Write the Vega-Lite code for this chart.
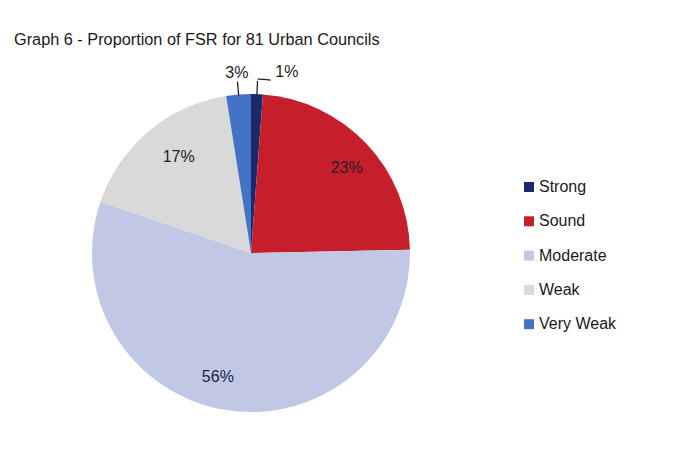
{
  "$schema": "https://vega.github.io/schema/vega-lite/v6.json",
  "width": 318,
  "height": 318,
  "autosize": {"type": "none"},
  "padding": {"left": 92, "top": 94, "right": 266, "bottom": 46},
  "background": "white",
  "config": {"view": {"stroke": null}},
  "title": {
    "text": "Graph 6 - Proportion of FSR for 81 Urban Councils",
    "anchor": "start",
    "frame": "group",
    "dx": -78,
    "offset": 16,
    "font": "Liberation Sans",
    "fontSize": 16.3,
    "fontWeight": "normal",
    "color": "#1a1a1a"
  },
  "data": {
    "values": [
      {"category": "Strong", "rank": 1, "share": 1.2, "label": "1%"},
      {"category": "Sound", "rank": 2, "share": 23.5, "label": "23%"},
      {"category": "Moderate", "rank": 3, "share": 55.6, "label": "56%"},
      {"category": "Weak", "rank": 4, "share": 17.3, "label": "17%"},
      {"category": "Very Weak", "rank": 5, "share": 2.5, "label": "3%"}
    ]
  },
  "encoding": {
    "theta": {"field": "share", "type": "quantitative", "stack": true},
    "order": {"field": "rank", "type": "quantitative"}
  },
  "layer": [
    {
      "mark": {"type": "arc"},
      "encoding": {
        "color": {
          "field": "category",
          "type": "nominal",
          "scale": {
            "domain": ["Strong", "Sound", "Moderate", "Weak", "Very Weak"],
            "range": ["#1c296c", "#c61f2b", "#c1c8e6", "#d9d9d9", "#4472c4"]
          },
          "legend": {
            "title": null,
            "orient": "none",
            "legendX": 429,
            "legendY": 85,
            "padding": 0,
            "symbolType": "square",
            "symbolSize": 100,
            "symbolStrokeWidth": 0,
            "symbolOpacity": 1,
            "labelFont": "Liberation Sans",
            "labelFontSize": 16,
            "labelColor": "#1a1a1a",
            "labelOffset": 2,
            "rowPadding": 18.3
          }
        }
      }
    },
    {
      "mark": {"type": "arc", "innerRadius": 158, "outerRadius": 172, "padAngle": 0.2, "fill": null, "strokeWidth": 1.3},
      "encoding": {
        "stroke": {"condition": {"test": "datum.category === 'Strong' || datum.category === 'Very Weak'", "value": "#222222"}, "value": "transparent"}
      }
    },
    {
      "mark": {"type": "arc", "innerRadius": 174, "outerRadius": 174, "thetaOffset": 0.0377, "theta2Offset": 0.0503, "fill": null, "strokeWidth": 1.3},
      "encoding": {
        "stroke": {"condition": {"test": "datum.category === 'Strong'", "value": "#222222"}, "value": "transparent"}
      }
    },
    {
      "mark": {"type": "text", "radius": 129, "dx": 2, "dy": 4, "font": "Liberation Sans", "fontSize": 16, "color": "#222222"},
      "encoding": {"text": {"condition": {"test": "datum.category === 'Sound'", "field": "label"}, "value": ""}}
    },
    {
      "mark": {"type": "text", "radius": 120, "dx": 5, "dy": -4, "font": "Liberation Sans", "fontSize": 16, "color": "#222222"},
      "encoding": {"text": {"condition": {"test": "datum.category === 'Weak'", "field": "label"}, "value": ""}}
    },
    {
      "mark": {"type": "text", "radius": 125, "dx": -14, "dy": 0, "font": "Liberation Sans", "fontSize": 16, "color": "#222240"},
      "encoding": {"text": {"condition": {"test": "datum.category === 'Moderate'", "field": "label"}, "value": ""}}
    },
    {
      "mark": {"type": "text", "radius": 181, "dx": 0, "dy": 0, "font": "Liberation Sans", "fontSize": 16, "color": "#222222"},
      "encoding": {"text": {"condition": {"test": "datum.category === 'Very Weak'", "field": "label"}, "value": ""}}
    },
    {
      "mark": {"type": "text", "radius": 181, "dx": 29, "dy": 0, "font": "Liberation Sans", "fontSize": 16, "color": "#222222"},
      "encoding": {"text": {"condition": {"test": "datum.category === 'Strong'", "field": "label"}, "value": ""}}
    }
  ]
}
